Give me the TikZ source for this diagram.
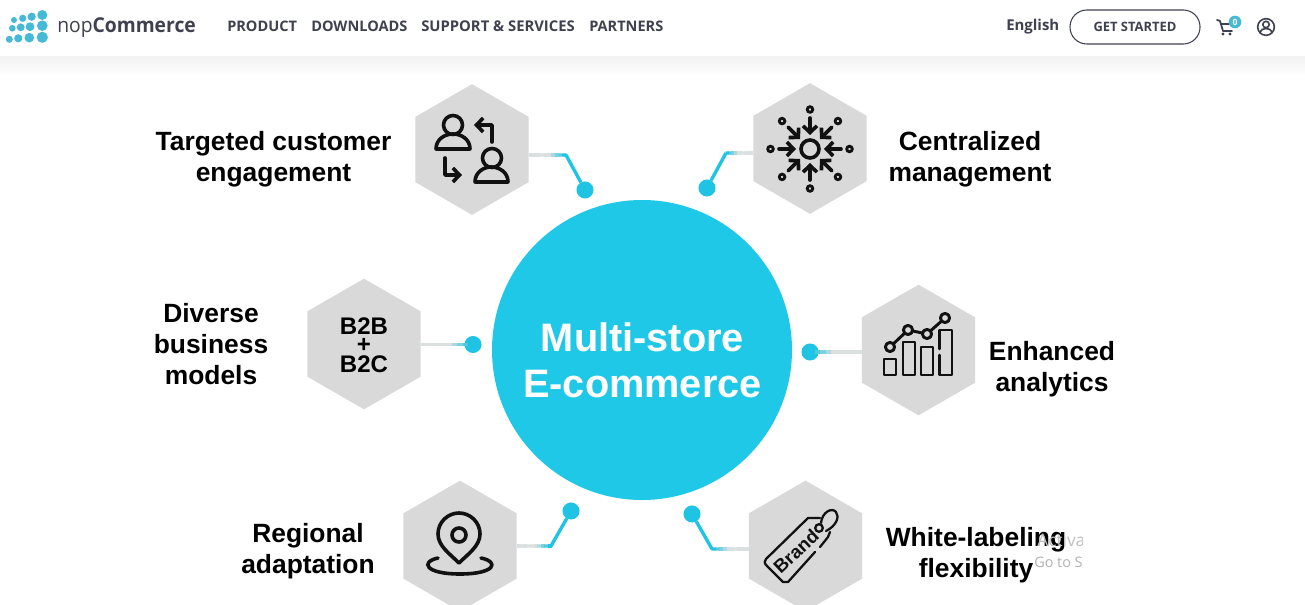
\documentclass[tikz,border=0pt]{standalone}
\usepackage{fontspec}
\usetikzlibrary{shapes.geometric,arrows.meta,calc}
\setmainfont{Liberation Sans}
\newfontfamily\navfont{Open Sans}
\definecolor{hexgrey}{HTML}{D9D9D9}
\definecolor{maincyan}{HTML}{1FC8E6}
\definecolor{linecyan}{HTML}{1FC3E3}
\definecolor{linegrey}{HTML}{DADFE0}
\definecolor{navtext}{HTML}{3F4150}
\definecolor{logocyan}{HTML}{45B9D6}
\definecolor{inkblack}{HTML}{111111}
\newcommand{\fadeln}[2]{%
  \foreach \i in {0,...,9}{%
    \pgfmathsetmacro\fa{\i/10}%
    \pgfmathsetmacro\fb{(\i+1.15)/10}%
    \pgfmathtruncatemacro\fm{max(0,\i-5)*25}%
    \draw[line width=2.5pt,color=linecyan!\fm!linegrey] ($(#1)!\fa!(#2)$) -- ($(#1)!\fb!(#2)$);
  }}
\tikzset{
  hexa/.style={regular polygon,regular polygon sides=6,regular polygon rotate=30,fill=hexgrey,draw=none,minimum size=98pt,inner sep=0pt,outer sep=0pt},
  dotc/.style={circle,fill=linecyan,draw=none,minimum size=12.8pt,inner sep=0pt,outer sep=0pt},
  conn/.style={line width=2.5pt,color=linecyan,line join=round},
  lab/.style={align=center,inner sep=0pt,text=black,font=\bfseries\fontsize{19.8}{23.2}\selectfont},
  nav/.style={anchor=west,inner sep=0pt,text=navtext,font=\navfont\bfseries\fontsize{10.9}{13}\selectfont},
  ico/.style={draw=inkblack,line width=2.7pt,line cap=round,line join=round},
  icothin/.style={draw=inkblack,line width=1.7pt,line cap=round,line join=round},
  barb/.style={-{Straight Barb[length=5pt,width=10.5pt,line width=2.7pt]}},
}
\begin{document}
\begin{tikzpicture}[x=0.75pt,y=-0.75pt]
\clip[use as bounding box] (0,0) rectangle (1305,605);
\fill[white] (0,0) rectangle (1305,605);
\shade[top color=black!5,bottom color=white] (0,57) rectangle (1305,76);
% logo
\foreach \x/\y/\r in {14/20/3,22.7/18.3/3.6,31.7/16.7/4.1,42.3/15/5,12.3/28.3/3.3,20.7/27.3/3.9,30/26.7/4.4,42.3/25.7/5.3,9.3/39.3/3.5,18.3/38.3/4.1,29.3/37.7/4.8,42.3/37.3/5.6}
  \fill[logocyan] (\x,\y) circle[radius=\r];
\node[anchor=base west,inner sep=0pt,text=navtext,xscale=0.94,transform shape=false] (logotext) at (57,32.5) {\navfont\fontsize{15.4}{18}\selectfont nop\textbf{Commerce}};
% nav
\node[nav] (n1) at (227,26) {PRODUCT};
\node[nav] (n2) at (311,26) {DOWNLOADS};
\node[nav,font=\navfont\bfseries\fontsize{11.1}{13}\selectfont] (n3) at (421,26) {SUPPORT \& SERVICES};
\node[nav] (n4) at (589,26) {PARTNERS};
\node[nav,anchor=base west,font=\navfont\bfseries\fontsize{11.2}{13}\selectfont] (n5) at (1006,31) {English};
\node[draw=navtext,line width=0.8pt,rounded corners=12.6pt,minimum width=97.5pt,minimum height=25.5pt,inner sep=0pt,text=navtext,font=\navfont\bfseries\fontsize{9.7}{11}\selectfont] (btn) at (1135,27) {GET STARTED};
% cart
\draw[navtext,line width=1.3pt,line join=round,line cap=round] (1217,20) -- (1220,21) -- (1223,31) -- (1232,31);
\draw[navtext,line width=1.3pt] (1221,24) -- (1231,24);
\fill[navtext] (1223,34) circle[radius=1.7] (1230,34) circle[radius=1.7];
\node[circle,fill=logocyan,minimum size=9.5pt,inner sep=0pt,text=white,font=\navfont\bfseries\fontsize{6.5}{7}\selectfont] (badge) at (1235,22) {0};
% user
\node[circle,draw=navtext,line width=1.2pt,minimum size=12.5pt,inner sep=0pt] (usr) at (1266,27) {};
\draw[navtext,line width=1.2pt] (1266,24.5) circle[radius=3.2];
\draw[navtext,line width=1.2pt] (1260,33) .. controls (1261,29.5) and (1263,28.5) .. (1266,28.5) .. controls (1269,28.5) and (1271,29.5) .. (1272,33);
% centre circle
\node[circle,fill=maincyan,minimum size=225pt,inner sep=0pt] (hub) at (642,350) {};
\node[text=white,align=center,inner sep=0pt,font=\bfseries\fontsize{29.8}{34.5}\selectfont] (hubt) at (642.5,360) {Multi-store\\E-commerce};
% hexagons
\node[hexa] (h1) at (472,149.5) {};
\node[hexa] (h2) at (810,148.5) {};
\node[hexa] (h3) at (918.5,350) {};
\node[hexa] (h4) at (364,344) {};
\node[hexa] (h5) at (460,546) {};
\node[hexa] (h6) at (805.5,546) {};
% dots
\node[dotc] (d1) at (585,190) {};
\node[dotc] (d2) at (707,188) {};
\node[dotc] (d3) at (810,352) {};
\node[dotc] (d4) at (473,344.5) {};
\node[dotc] (d5) at (571,511) {};
\node[dotc] (d6) at (692,514) {};
% connectors
\coordinate (e1) at (566,155); \coordinate (s1) at (h1.east |- e1);
\coordinate (e2) at (726,153); \coordinate (s2) at (h2.west |- e2);
\coordinate (e5) at (551,546); \coordinate (s5) at (h5.east |- e5);
\coordinate (e6) at (712,549); \coordinate (s6) at (h6.west |- e6);
\coordinate (s3) at (h3.west |- d3);
\coordinate (s4) at (h4.east |- d4);
\fadeln{s1}{e1}\fadeln{s2}{e2}\fadeln{s5}{e5}\fadeln{s6}{e6}\fadeln{s3}{d3}\fadeln{s4}{d4}
\draw[conn] (e1) -- (d1);
\draw[conn] (e2) -- (d2);
\draw[conn] (e5) -- (d5);
\draw[conn] (e6) -- (d6);
% labels
\node[lab] (l1) at (273.5,159) {Targeted customer\\engagement};
\node[lab] (l2) at (970,159) {Centralized\\management};
\node[lab] (l3) at (211,344) {Diverse\\business\\models};
\node[lab] (l4) at (1052,369) {Enhanced\\analytics};
\node[lab] (l5) at (308,551.5) {Regional\\adaptation};
\node[lab] (l6) at (976,555) {White-labeling\\flexibility};
% icon: people exchange
\draw[ico] (453,125) circle[radius=9.5];
\draw[ico] (436,149) .. controls (436,139) and (445,134) .. (453,134) .. controls (461,134) and (470,139) .. (470,149) -- cycle;
\draw[ico] (492,158) circle[radius=9.5];
\draw[ico] (475,182) .. controls (475,172) and (484,167) .. (491,167) .. controls (499,167) and (508,172) .. (508,182) -- cycle;
\draw[ico,barb] (492,142) -- (492,125) -- (474,125);
\draw[ico,barb] (445,158) -- (445,175) -- (462,175);
% icon: hub and spokes
\coordinate (cc) at (810,149);
\draw[ico] (cc) circle[radius=9];
\foreach \a in {0,45,...,315}{
  \draw[draw=inkblack,line width=2.1pt] ($(cc)+(\a:39.5)$) circle[radius=2.8];
  \draw[ico,barb] ($(cc)+(\a:31)$) -- ($(cc)+(\a:14)$);
}
% icon: chart
\tikzset{chartln/.style={draw=inkblack,line width=2.2pt,line cap=round,line join=round}}
\draw[chartln] (884,359) rectangle (896,375);
\draw[chartln] (903,342) rectangle (915,375);
\draw[chartln] (921,347) rectangle (933,375);
\draw[chartln] (939.5,349) -- (939.5,330) -- (952,330) -- (952,375) -- (939.5,375) -- (939.5,355);
\draw[chartln] (890,347) -- (908,330) -- (927,334) -- (945,318);
\foreach \x/\y in {890/347,908/330,927/334,945/318}
  \draw[chartln,fill=hexgrey] (\x,\y) circle[radius=4.6];
% B2B + B2C
\node[inner sep=0pt,text=black,font=\bfseries\fontsize{18}{18}\selectfont] (b1) at (364,326) {B2B};
\node[inner sep=0pt,text=black,font=\bfseries\fontsize{18}{18}\selectfont] (b2) at (364,345) {+};
\node[inner sep=0pt,text=black,font=\bfseries\fontsize{18}{18}\selectfont] (b3) at (364,364) {B2C};
% icon: pin
\draw[ico] (459,563) .. controls (450,554) and (438,546) .. (438,534) .. controls (438,522) and (448,513) .. (459,513) .. controls (470,513) and (480,522) .. (480,534) .. controls (480,546) and (468,554) .. cycle;
\draw[ico] (459,535) circle[radius=7];
\draw[ico] (438,558) .. controls (420,562) and (425,574) .. (460,574) .. controls (495,574) and (500,562) .. (481,558);
% icon: tag
\draw[icothin] (815,552) -- (788,582) -- (783,582) -- (767,566) .. controls (764,563) and (764,561) .. (766,559) -- (808,518) -- (820,518);
\draw[icothin] (830,532) -- (828,537) -- (820,547);
\draw[icothin] (819,528) circle[radius=3.8];
\draw[icothin] (821,523) .. controls (822,512) and (832,507) .. (836,512) .. controls (840,517) and (836,526) .. (826,531);
\node[inner sep=0pt,rotate=43,text=inkblack,font=\bfseries\fontsize{14}{15}\selectfont] (brandt) at (796,551.5) {Brand};
% watermark
\begin{scope}
\clip (1000,520) rectangle (1082,580);
\node[anchor=west,inner sep=0pt,text=black!25,font=\navfont\fontsize{13}{15}\selectfont] (w1) at (1037,540) {Activa};
\node[anchor=west,inner sep=0pt,text=black!30,font=\navfont\fontsize{10.8}{13}\selectfont] (w2) at (1034,562) {Go to S};
\end{scope}
\end{tikzpicture}
\end{document}
